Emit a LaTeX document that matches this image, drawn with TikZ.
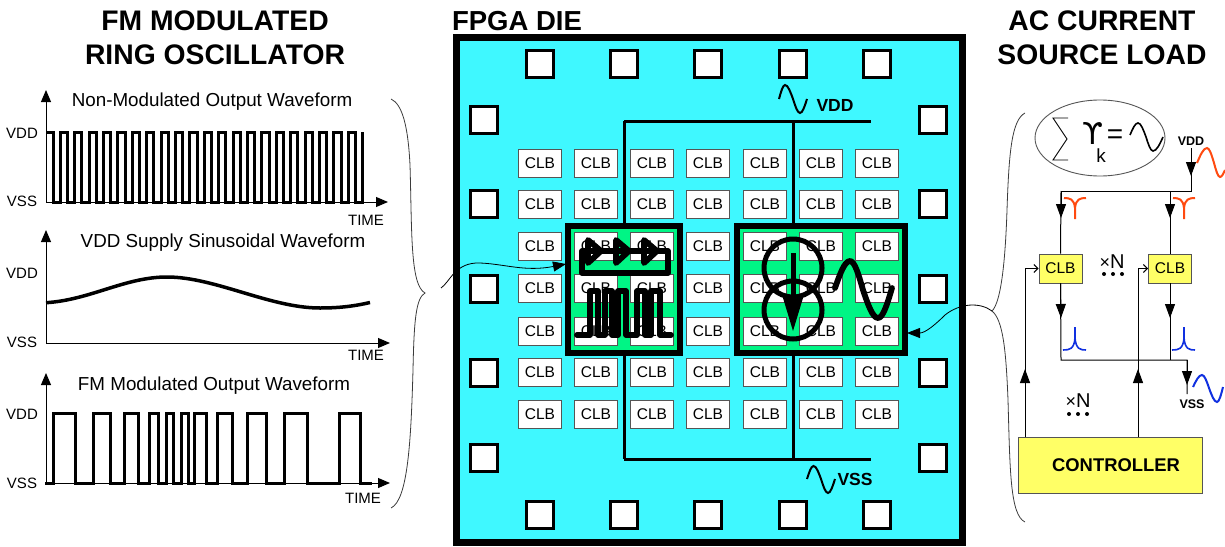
\documentclass[tikz,border=0pt]{standalone}
\usepackage{amsmath}
\usepackage{fontspec}
\setmainfont{Liberation Sans}
\newfontfamily\symbolfont{DejaVu Sans}
\usetikzlibrary{arrows.meta,shapes.geometric}
\definecolor{diecyan}{HTML}{3FF8FF}
\definecolor{hotgreen}{HTML}{00F585}
\definecolor{clbyellow}{HTML}{FFFF66}
\definecolor{peakorange}{HTML}{FF4A10}
\definecolor{peakblue}{HTML}{1030E0}
\definecolor{edgegray}{HTML}{555555}
\tikzset{
    titletext/.style={font=\fontsize{28.3}{30}\selectfont\bfseries,inner sep=0pt},
    wavetitle/.style={font=\fontsize{18.8}{21}\selectfont,inner sep=0pt},
    levellabel/.style={font=\fontsize{15}{18}\selectfont,inner sep=0pt},
    railtext/.style={font=\fontsize{17.5}{20}\selectfont\bfseries,inner sep=0pt},
    smallrail/.style={font=\fontsize{12.5}{15}\selectfont\bfseries,inner sep=0pt},
    padbox/.style={draw,line width=3.8pt,fill=white,minimum size=27pt,inner sep=0pt},
    clbbox/.style={draw=edgegray,line width=.8pt,fill=white,minimum width=43pt,minimum height=28pt,inner sep=0pt,font=\fontsize{15.5}{18}\selectfont},
    yellowclb/.style={clbbox,fill=clbyellow,minimum height=29pt},
    timeaxis/.style={line width=1pt,-{Triangle[width=10pt,length=12pt]}},
    flowtip/.style={line width=1pt,-{Triangle[width=10pt,length=14pt]}},
    feedtip/.style={line width=1pt,-{Straight Barb[length=4pt,width=8pt]}},
    plainrun/.style={line width=1pt},
    brace/.style={line width=.8pt,edgegray!70!black},
    rail/.style={line width=3pt},
    glyph/.style={line width=5.8pt,line cap=round,line join=round}
}
\begin{document}
\begin{tikzpicture}[x=1pt,y=-1pt]
    \useasboundingbox (0,0) rectangle (1225,546);

    \node[titletext] (titlering) at (215,21) {FM MODULATED};
    \node[titletext] (titlering2) at (215,55) {RING OSCILLATOR};
    \node[titletext,font=\fontsize{27.5}{30}\selectfont\bfseries] (titledie) at (517,21) {FPGA DIE};
    \node[titletext] (titleload) at (1102,21) {AC CURRENT};
    \node[titletext] (titleload2) at (1102,55) {SOURCE LOAD};

    \coordinate (origa) at (46,202);
    \coordinate (topa) at (46,90);
    \coordinate (enda) at (388,202);
    \draw[timeaxis] (origa) -- (topa);
    \draw[timeaxis] (origa) -- (enda);
    \draw[line width=3pt,line join=miter] (46,132) -- (53,132) foreach \i in {1,...,21} { -- ++(0,70) -- ++(7.2,0) -- ++(0,-70) -- ++(7.2,0) } -- ++(0,70) -- ++(7.2,0) -- ++(0,-70);
    \node[wavetitle] (titlea) at (212,102) {Non-Modulated Output Waveform};
    \node[levellabel] (vdda) at (22,133) {VDD};
    \node[levellabel] (vssa) at (22,201) {VSS};
    \node[levellabel] (timea) at (366,220) {TIME};

    \coordinate (origb) at (46,343);
    \coordinate (topb) at (46,230);
    \coordinate (endb) at (390,343);
    \draw[timeaxis] (origb) -- (topb);
    \draw[timeaxis] (origb) -- (endb);
    \draw[line width=3.5pt] (46,302.7) .. controls (90,300) and (125,277) .. (167,277) .. controls (215,277) and (270,308) .. (320,308) .. controls (340,308) and (355,306) .. (370,302.5);
    \node[wavetitle] (titleb) at (223,243) {VDD Supply Sinusoidal Waveform};
    \node[levellabel] (vddb) at (22,273) {VDD};
    \node[levellabel] (vssb) at (22,342) {VSS};
    \node[levellabel] (timeb) at (366,355) {TIME};

    \coordinate (origc) at (46,483);
    \coordinate (topc) at (46,373);
    \coordinate (endc) at (390,483);
    \draw[timeaxis] (origc) -- (topc);
    \draw[timeaxis] (origc) -- (endc);
    \draw[line width=3pt] (45,483) foreach \a/\b in {53/75,93/110,124/138,149/158,166/173,181/188,194/206,217/232,247/266,284/307,339/360} { -- (\a,483) -- (\a,413) -- (\b,413) -- (\b,483) } -- (372,483);
    \node[wavetitle] (titlec) at (214,386) {FM Modulated Output Waveform};
    \node[levellabel] (vddc) at (22,414) {VDD};
    \node[levellabel] (vssc) at (22,483) {VSS};
    \node[levellabel] (timec) at (363,498) {TIME};

    \draw[brace] (391,99) .. controls (402,104) and (408,125) .. (410,165) .. controls (412,230) and (410,285) .. (425,293) .. controls (416,298) and (414,320) .. (413,370) .. controls (411,440) and (408,500) .. (391,508);
    \draw[brace] (1025,113) .. controls (1012,120) and (1009,150) .. (1007,210) .. controls (1005,270) and (1000,303) .. (992,311) .. controls (1003,320) and (1006,350) .. (1008,400) .. controls (1010,470) and (1010,515) .. (1025,522);

    \draw[fill=diecyan,line width=7pt] (456,37) rectangle (962,542);

    \foreach \x [count=\c] in {540,624,708,793,877} {
        \node[padbox] (padtop\c) at (\x,64) {};
        \node[padbox] (padbot\c) at (\x,515) {};
    }
    \foreach \y [count=\c] in {120,204,289,373,458} {
        \node[padbox] (padleft\c) at (484,\y) {};
        \node[padbox] (padright\c) at (933,\y) {};
    }

    \coordinate (vddleft) at (624,121);
    \coordinate (vddmid) at (793,121);
    \coordinate (vddend) at (871,121);
    \coordinate (vssleft) at (624,459);
    \coordinate (vssmid) at (793,459);
    \coordinate (vssend) at (871,459);
    \draw[rail] (vddleft) -- (vddend);
    \draw[rail] (vssleft) -- (vssend);
    \draw[rail] (vddleft) -- (vssleft);
    \draw[rail] (vddmid) -- (vssmid);
    \draw[line width=2pt] (779,99) sin (785,85) cos (793,99) sin (800,113) cos (807,99);
    \node[railtext] (dievdd) at (835,105) {VDD};
    \draw[line width=2pt] (807,479) sin (813.5,466) cos (821,479) sin (828,493) cos (835,479);
    \node[railtext] (dievss) at (855,479) {VSS};

    \draw[fill=hotgreen,line width=6.5pt] (568,226) rectangle (680,353);
    \draw[fill=hotgreen,line width=6.5pt] (737,226) rectangle (905,353);

    \foreach \y [count=\r] in {163,204,246,288,331,372,414} {
        \foreach \x [count=\c] in {540,596,652,708,765,821,877} {
            \node[clbbox] (clb\r\c) at (\x,\y) {CLB};
        }
    }

    \draw[glyph] (582,251) -- (668,251) -- (668,273) -- (582,273) -- cycle;
    \foreach \x in {588,616,644} {
        \draw[glyph] (\x,240) -- (\x+13,251) -- (\x,263) -- cycle;
    }
    \draw[glyph] (577,335) -- (590,335) -- (590,291) -- (598,291) -- (598,335) -- (605,335) -- (605,291) -- (612,291) -- (612,335) -- (618,335) -- (618,291) -- (626,291) -- (626,335) -- (637,335) -- (637,291) -- (645,291) -- (645,335) -- (651,335) -- (651,291) -- (660,291) -- (660,335) -- (671,335);

    \draw[line width=5pt] (793,268) circle (29);
    \draw[line width=5pt] (793,310) circle (29);
    \draw[line width=5pt] (793,253) -- (793,300);
    \fill (783,298) -- (803,298) -- (793,331) -- cycle;
    \draw[glyph] (835,288) sin (850,261) cos (863,290) sin (878,318) cos (892,288);

    \node[draw=edgegray,ellipse,minimum width=130pt,minimum height=76pt,line width=.9pt] (sumring) at (1100,138) {};
    \draw[line width=.9pt] (1068,118) -- (1053,118) -- (1067,139) -- (1053,160) -- (1068,160);
    \node[inner sep=0pt,font=\symbolfont\fontsize{30}{30}\selectfont] (gamma) at (1093,133) {ϒ};
    \node[inner sep=0pt,font=\fontsize{19}{19}\selectfont] (gammak) at (1101,156) {k};
    \node[inner sep=0pt,font=\fontsize{28}{28}\selectfont] (gammaeq) at (1115,137) {=};
    \draw[line width=1.6pt] (1130,135) sin (1138,123) cos (1146,137) sin (1153,151) cos (1163,137);

    \node[smallrail] (loadvdd) at (1191,141) {VDD};
    \coordinate (vddin) at (1191,148);
    \coordinate (vddtip) at (1191,176);
    \coordinate (vddbus) at (1191,191);
    \coordinate (busleft) at (1061,191);
    \coordinate (busright) at (1170,191);
    \node[yellowclb] (clbleft) at (1060.5,268.5) {CLB};
    \node[yellowclb] (clbright) at (1170,268.5) {CLB};
    \node[draw=edgegray,line width=1pt,fill=clbyellow,minimum width=184pt,minimum height=56pt,inner sep=0pt,font=\fontsize{18.4}{20}\selectfont\bfseries] (controller) at (1110,465) {\hspace*{12pt}CONTROLLER};
    \coordinate (tipleft) at (1061,218);
    \coordinate (tipright) at (1170,218);
    \coordinate (downleft) at (1061,318);
    \coordinate (downright) at (1170,318);
    \coordinate (vssbus) at (1061,360);
    \coordinate (vssbusr) at (1170,360);
    \coordinate (vssdrop) at (1187,360);
    \coordinate (vsstip) at (1187,385);
    \coordinate (vssout) at (1187,394);
    \node[smallrail] (loadvss) at (1192,404) {VSS};

    \draw[plainrun] (vddin) -- (vddbus) -- (busleft);
    \draw[flowtip] (vddin) -- (vddtip);
    \draw[plainrun] (busleft) -- (clbleft.north);
    \draw[plainrun] (busright) -- (clbright.north);
    \draw[flowtip] (busleft) -- (tipleft);
    \draw[flowtip] (busright) -- (tipright);
    \draw[plainrun] (clbleft.south) -- (vssbus) -- (vssdrop) -- (vssout);
    \draw[plainrun] (clbright.south) -- (vssbusr);
    \draw[flowtip] (clbleft.south) -- (downleft);
    \draw[flowtip] (clbright.south) -- (downright);
    \draw[flowtip] (vssdrop) -- (vsstip);

    \coordinate (ctrla) at (1025,437);
    \coordinate (ctrlb) at (1138,437);
    \coordinate (ctrlatip) at (1025,369);
    \coordinate (ctrlbtip) at (1138,369);
    \draw[feedtip] (ctrla) |- (clbleft.west);
    \draw[feedtip] (ctrlb) |- (clbright.west);
    \draw[flowtip] (ctrla) -- (ctrlatip);
    \draw[flowtip] (ctrlb) -- (ctrlbtip);

    \node[inner sep=0pt,font=\fontsize{20}{20}\selectfont] (countn) at (1112,262) {{\fontsize{18}{18}\selectfont ×}N};
    \node[inner sep=0pt,font=\fontsize{20}{20}\selectfont] (countnb) at (1078,401) {{\fontsize{18}{18}\selectfont ×}N};
    \foreach \x in {1104,1113,1122} {
        \fill (\x,274) circle (2);
    }
    \foreach \x in {1069,1078,1087} {
        \fill (\x,414) circle (2);
    }

    \foreach \x in {1075,1184} {
        \draw[peakorange,line width=2pt] (\x-11,198) .. controls (\x-5,198) and (\x-1,199) .. (\x,208) -- (\x,219) (\x+11,198) .. controls (\x+5,198) and (\x+1,199) .. (\x,208);
        \draw[peakblue,line width=1.6pt] (\x-12,350) .. controls (\x-5,350) and (\x-1,349) .. (\x,338) -- (\x,327) (\x+11,350) .. controls (\x+5,350) and (\x+1,349) .. (\x,338);
    }
    \draw[peakorange,line width=2pt] (1197,163) sin (1207,148) cos (1214,163) sin (1220,177) cos (1225,170);
    \draw[peakblue,line width=2pt] (1193,387) sin (1202,375) cos (1209,388) sin (1217,402) cos (1223,387);

    \coordinate (ringstart) at (441,288);
    \coordinate (ringtip) at (566,264);
    \coordinate (loadstart) at (992,311);
    \coordinate (loadtip) at (907,333);
    \draw[line width=.8pt,-{Triangle[width=10pt,length=13pt]}] (ringstart) .. controls (450,282) and (455,262) .. (480,263) .. controls (505,264) and (525,272) .. (ringtip);
    \draw[line width=.8pt,-{Triangle[width=10pt,length=13pt]}] (loadstart) .. controls (980,302) and (960,303) .. (945,315) .. controls (935,325) and (925,333) .. (loadtip);
\end{tikzpicture}
\end{document}
